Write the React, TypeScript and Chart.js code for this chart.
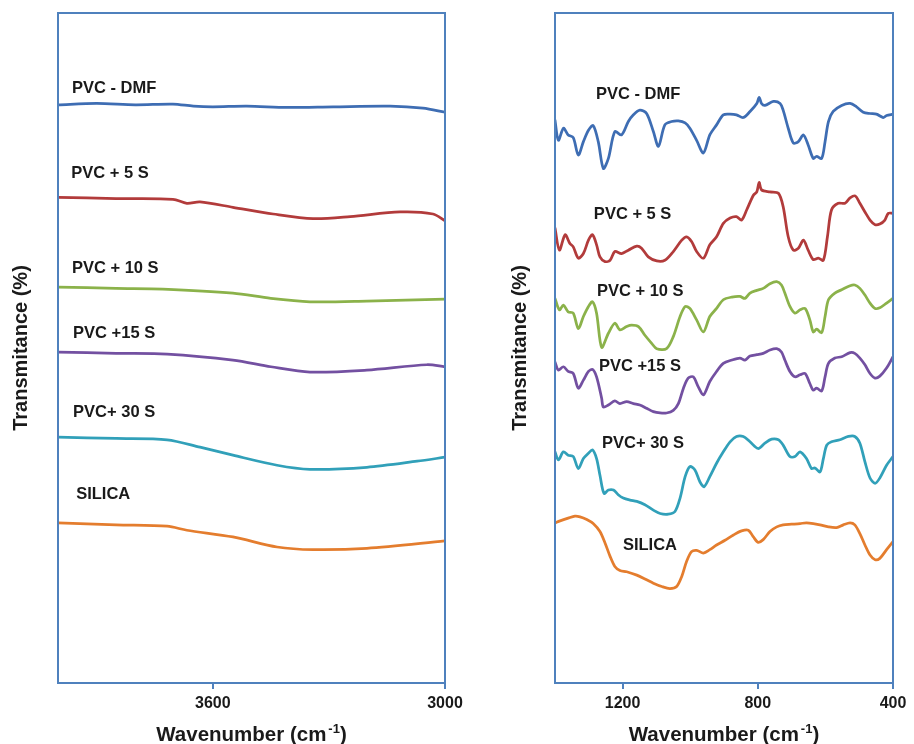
import React, { useEffect, useRef } from "react";
import { Chart, registerables } from "chart.js";
Chart.register(...registerables);

const FONT = '"Liberation Sans", Arial, Helvetica, sans-serif';
const BOX_COLOR = "#4f81bd";
const TEXT_COLOR = "#1a1a1a";

const SERIES_NAMES = ["PVC - DMF", "PVC + 5 S", "PVC + 10 S", "PVC +15 S", "PVC+ 30 S", "SILICA"];
const SERIES_COLORS = ["#3e6db3", "#b23b3b", "#8bb24a", "#7350a1", "#31a0b9", "#e47d2e"];

const Y_TITLE = "Transmitance (%)";
const X_TITLE_MAIN = "Wavenumber (cm";
const X_TITLE_SUP = "-1";
const X_TITLE_END = ")";

// Left panel (4000 - 3000 cm-1)
const LEFT_RANGE = [3000, 4000];
const LEFT_TICKS = [3600, 3000];
const L_DMF: [number, number][] = [[4000, 86.3], [3900, 86.5], [3800, 86.3], [3703, 86.4], [3650, 86.1], [3600, 86.0], [3512, 86.1], [3408, 85.9], [3289, 86.0], [3142, 86.1], [3057, 85.8], [3000, 85.2]];
const L_5S: [number, number][] = [[4000, 72.5], [3850, 72.3], [3703, 72.2], [3667, 71.6], [3633, 71.8], [3548, 71.0], [3444, 70.0], [3341, 69.3], [3245, 69.6], [3116, 70.3], [3031, 70.0], [3000, 69.0]];
const L_10S: [number, number][] = [[4000, 59.1], [3850, 58.9], [3729, 58.8], [3548, 58.2], [3450, 57.4], [3349, 56.9], [3202, 57.0], [3000, 57.3]];
const L_15S: [number, number][] = [[4000, 49.4], [3850, 49.2], [3718, 49.1], [3548, 48.2], [3450, 47.2], [3349, 46.4], [3202, 46.7], [3047, 47.5], [3000, 47.2]];
const L_30S: [number, number][] = [[4000, 36.7], [3850, 36.5], [3718, 36.3], [3633, 35.2], [3548, 34.0], [3434, 32.5], [3349, 31.9], [3202, 32.2], [3072, 33.1], [3000, 33.7]];
const L_SIL: [number, number][] = [[4000, 23.9], [3850, 23.6], [3718, 23.4], [3667, 22.8], [3548, 21.8], [3434, 20.3], [3341, 19.9], [3202, 20.1], [3000, 21.2]];
const LEFT_LABELS: [number, number][] = [[3964, 88.8], [3966, 76.1], [3964, 61.9], [3961, 52.2], [3961, 40.4], [3953, 28.1]];

// Right panel (1400 - 400 cm-1)
const RIGHT_RANGE = [400, 1400];
const RIGHT_TICKS = [1200, 800, 400];
const R_DMF: [number, number][] = [[1400, 84.0], [1390, 81.0], [1375, 82.8], [1361, 81.8], [1346, 81.4], [1331, 78.8], [1316, 80.8], [1301, 82.5], [1287, 83.2], [1272, 80.8], [1257, 76.8], [1242, 78.3], [1223, 82.3], [1203, 81.8], [1183, 83.8], [1168, 84.8], [1149, 85.5], [1129, 85.0], [1109, 82.3], [1094, 80.1], [1075, 83.3], [1055, 83.8], [1035, 83.9], [1015, 83.6], [1001, 82.8], [981, 81.0], [961, 79.1], [942, 81.8], [922, 83.3], [902, 84.8], [882, 84.9], [863, 84.8], [843, 84.4], [823, 85.3], [803, 86.5], [796, 87.4], [789, 86.5], [779, 86.2], [754, 86.8], [734, 86.5], [725, 85.5], [710, 82.8], [695, 80.6], [680, 80.8], [665, 81.8], [651, 80.3], [636, 78.3], [626, 78.6], [611, 78.3], [601, 80.8], [591, 83.8], [577, 85.3], [552, 86.2], [527, 86.5], [508, 86.0], [488, 85.2], [468, 85.0], [449, 84.9], [429, 84.4], [419, 84.7], [400, 84.9]];
const R_5S: [number, number][] = [[1400, 67.9], [1387, 64.6], [1370, 66.9], [1356, 65.6], [1346, 65.1], [1331, 63.4], [1316, 64.1], [1301, 66.1], [1289, 66.9], [1277, 65.4], [1267, 63.6], [1252, 62.9], [1237, 63.1], [1223, 64.4], [1203, 64.1], [1183, 64.6], [1158, 65.2], [1144, 64.9], [1124, 63.6], [1099, 63.0], [1075, 63.1], [1050, 64.4], [1025, 66.1], [1011, 66.6], [996, 65.9], [981, 64.4], [961, 63.4], [942, 65.4], [922, 66.6], [902, 68.6], [882, 69.4], [863, 69.6], [848, 69.1], [833, 70.6], [813, 72.8], [803, 73.3], [796, 74.7], [789, 73.6], [764, 73.3], [739, 73.1], [725, 71.1], [710, 66.6], [695, 64.6], [680, 64.9], [665, 66.1], [651, 64.6], [636, 63.2], [621, 63.4], [606, 63.1], [594, 66.6], [582, 70.6], [562, 71.6], [542, 71.6], [527, 72.4], [512, 72.7], [498, 71.6], [483, 70.3], [468, 69.1], [453, 68.4], [439, 68.5], [424, 69.1], [414, 70.1], [400, 70.1]];
const R_10S: [number, number][] = [[1400, 57.4], [1387, 55.7], [1375, 56.4], [1361, 55.4], [1346, 55.2], [1331, 52.9], [1316, 54.7], [1301, 56.2], [1289, 56.9], [1277, 55.2], [1262, 50.1], [1242, 52.2], [1223, 53.7], [1208, 52.7], [1188, 53.2], [1173, 53.4], [1153, 53.2], [1134, 51.9], [1114, 50.7], [1099, 49.9], [1070, 49.9], [1050, 51.7], [1030, 54.7], [1015, 56.2], [1001, 55.9], [981, 54.2], [961, 52.4], [942, 54.7], [922, 55.9], [902, 57.2], [877, 57.6], [853, 57.7], [838, 57.4], [823, 58.2], [803, 58.6], [784, 58.9], [764, 59.6], [744, 59.9], [730, 59.4], [720, 58.2], [705, 56.2], [690, 55.2], [675, 55.7], [660, 55.9], [646, 54.2], [636, 52.4], [626, 52.8], [611, 52.3], [601, 54.7], [591, 57.2], [572, 58.2], [552, 58.7], [527, 59.3], [513, 59.4], [498, 58.9], [483, 57.9], [468, 56.7], [453, 55.9], [439, 56.0], [419, 56.7], [400, 57.4]];
const R_15S: [number, number][] = [[1400, 47.9], [1390, 46.7], [1375, 47.2], [1361, 46.5], [1346, 46.2], [1331, 44.0], [1316, 45.2], [1301, 46.5], [1289, 46.8], [1277, 45.7], [1262, 42.5], [1257, 41.2], [1242, 41.5], [1223, 42.1], [1208, 41.7], [1188, 42.0], [1168, 41.7], [1149, 41.5], [1129, 41.0], [1109, 40.5], [1089, 40.3], [1070, 40.3], [1050, 40.7], [1035, 41.7], [1020, 44.0], [1006, 45.5], [991, 45.7], [976, 44.2], [961, 43.0], [942, 45.0], [922, 46.5], [902, 47.7], [877, 48.2], [853, 48.5], [838, 48.2], [823, 48.8], [803, 49.0], [784, 49.2], [764, 49.7], [744, 49.9], [730, 49.4], [720, 48.2], [705, 46.5], [690, 45.7], [675, 46.0], [660, 46.2], [646, 44.7], [636, 43.7], [626, 44.0], [611, 43.6], [601, 45.7], [591, 47.7], [572, 48.5], [552, 48.7], [527, 49.3], [513, 49.2], [498, 48.5], [483, 47.5], [468, 46.2], [453, 45.5], [439, 45.8], [419, 47.0], [400, 48.7]];
const R_30S: [number, number][] = [[1400, 34.5], [1390, 33.3], [1375, 34.5], [1361, 34.0], [1346, 33.8], [1331, 32.0], [1316, 33.5], [1301, 34.3], [1289, 34.8], [1277, 33.5], [1267, 31.0], [1255, 28.3], [1242, 28.8], [1227, 28.8], [1213, 28.1], [1198, 27.6], [1178, 27.3], [1158, 27.1], [1134, 26.6], [1109, 25.8], [1089, 25.3], [1065, 25.2], [1045, 25.6], [1030, 27.6], [1015, 30.8], [1001, 32.3], [986, 31.8], [971, 30.0], [959, 29.3], [942, 30.8], [922, 32.8], [902, 34.5], [882, 36.0], [863, 36.8], [843, 36.8], [823, 36.0], [799, 35.0], [779, 35.8], [759, 36.4], [739, 36.3], [725, 35.5], [705, 33.8], [690, 33.8], [675, 34.5], [656, 33.5], [641, 32.0], [631, 32.1], [616, 31.5], [606, 33.5], [596, 35.5], [582, 36.0], [557, 36.3], [532, 36.8], [513, 36.8], [498, 35.8], [483, 33.0], [468, 30.6], [453, 29.8], [439, 30.6], [419, 32.5], [400, 33.8]];
const R_SIL: [number, number][] = [[1400, 23.9], [1385, 24.2], [1361, 24.6], [1341, 24.9], [1326, 24.8], [1306, 24.4], [1287, 23.8], [1267, 22.6], [1252, 20.9], [1237, 18.9], [1223, 17.4], [1208, 16.8], [1188, 16.6], [1158, 16.1], [1129, 15.4], [1109, 14.9], [1084, 14.4], [1060, 14.1], [1040, 14.4], [1025, 15.9], [1011, 18.1], [996, 19.6], [981, 19.8], [961, 19.4], [942, 19.9], [922, 20.6], [897, 21.3], [872, 22.1], [848, 22.7], [828, 22.8], [813, 21.8], [799, 21.0], [784, 21.4], [764, 22.6], [744, 23.3], [725, 23.6], [700, 23.7], [675, 23.8], [656, 23.9], [636, 23.8], [616, 23.6], [591, 23.3], [567, 23.2], [547, 23.6], [527, 23.9], [513, 23.6], [498, 22.3], [483, 20.6], [468, 19.1], [453, 18.4], [439, 18.6], [419, 19.9], [400, 21.1]];
const RIGHT_LABELS: [number, number][] = [[1279, 87.8], [1285, 70.0], [1276, 58.5], [1270, 47.2], [1261, 35.8], [1199, 20.6]];

const LEFT_SERIES = [L_DMF, L_5S, L_10S, L_15S, L_30S, L_SIL];
const RIGHT_SERIES = [R_DMF, R_5S, R_10S, R_15S, R_30S, R_SIL];

type PanelProps = {
  series: [number, number][][];
  labels: [number, number][];
  range: number[];
  ticks: number[];
  left: number;
  width: number;
  padLeft: number;
  padRight: number;
  yTitleX: number;
};

const decorPlugin = {
  id: "panelDecor",
  afterDatasetsDraw(chart: any) {
    const { ctx, chartArea } = chart;
    ctx.save();
    ctx.strokeStyle = BOX_COLOR;
    ctx.lineWidth = 2;
    ctx.strokeRect(chartArea.left, chartArea.top, chartArea.right - chartArea.left, chartArea.bottom - chartArea.top);
    ctx.restore();
  },
  afterDraw(chart: any, _args: any, opts: any) {
    const { ctx, chartArea, scales } = chart;
    const xs = scales.x;
    const ys = scales.y;
    ctx.save();
    ctx.fillStyle = TEXT_COLOR;
    ctx.font = `bold 16.5px ${FONT}`;
    ctx.textAlign = "left";
    ctx.textBaseline = "middle";
    (opts.labels as [number, number][]).forEach((p, i) => {
      ctx.fillText(SERIES_NAMES[i], xs.getPixelForValue(p[0]), ys.getPixelForValue(p[1]));
    });
    ctx.save();
    ctx.translate(opts.yTitleX, (chartArea.top + chartArea.bottom) / 2);
    ctx.rotate(-Math.PI / 2);
    ctx.font = `bold 20px ${FONT}`;
    ctx.textAlign = "center";
    ctx.textBaseline = "middle";
    ctx.fillText(Y_TITLE, 0, 0);
    ctx.restore();
    const cx = (chartArea.left + chartArea.right) / 2;
    const base = 741;
    ctx.textBaseline = "alphabetic";
    ctx.textAlign = "left";
    ctx.font = `bold 20.5px ${FONT}`;
    const w1 = ctx.measureText(X_TITLE_MAIN).width;
    const w3 = ctx.measureText(X_TITLE_END).width;
    ctx.font = `bold 13px ${FONT}`;
    const w2 = ctx.measureText(X_TITLE_SUP).width;
    const gap = 2;
    const total = w1 + gap + w2 + w3;
    const x0 = cx - total / 2;
    ctx.font = `bold 20.5px ${FONT}`;
    ctx.fillText(X_TITLE_MAIN, x0, base);
    ctx.font = `bold 13px ${FONT}`;
    ctx.fillText(X_TITLE_SUP, x0 + w1 + gap, base - 8);
    ctx.font = `bold 20.5px ${FONT}`;
    ctx.fillText(X_TITLE_END, x0 + w1 + gap + w2, base);
    ctx.restore();
  },
};

function Panel(props: PanelProps) {
  const ref = useRef<HTMLCanvasElement | null>(null);
  useEffect(() => {
    if (!ref.current) return;
    const chart = new Chart(ref.current, {
      type: "line",
      data: {
        datasets: props.series.map((s, i) => ({
          label: SERIES_NAMES[i],
          data: s.map(([x, y]) => ({ x, y })),
          borderColor: SERIES_COLORS[i],
          backgroundColor: SERIES_COLORS[i],
          borderWidth: 2.75,
          pointRadius: 0,
          fill: false,
          tension: 0.3,
          borderJoinStyle: "round",
          borderCapStyle: "round",
        })),
      },
      options: {
        animation: false,
        responsive: false,
        devicePixelRatio: 1,
        layout: { padding: { left: props.padLeft, right: props.padRight, top: 13, bottom: 11 } },
        plugins: {
          legend: { display: false },
          tooltip: { enabled: false },
          panelDecor: { labels: props.labels, yTitleX: props.yTitleX },
        } as any,
        scales: {
          x: {
            type: "linear",
            min: props.range[0],
            max: props.range[1],
            reverse: true,
            afterBuildTicks: (axis: any) => {
              axis.ticks = props.ticks.map((v) => ({ value: v }));
            },
            afterFit: (axis: any) => {
              axis.height = 50;
            },
            grid: { drawOnChartArea: false, drawTicks: true, tickLength: 6, color: BOX_COLOR, lineWidth: 2 },
            border: { display: false },
            ticks: {
              autoSkip: false,
              maxRotation: 0,
              padding: 5,
              color: TEXT_COLOR,
              font: { family: FONT, size: 16, weight: "bold" },
              callback: (v: any) => String(v),
            },
          },
          y: {
            type: "linear",
            min: 0,
            max: 100,
            display: false,
          },
        },
      },
      plugins: [decorPlugin],
    } as any);
    return () => chart.destroy();
  }, []);
  return (
    <canvas
      ref={ref}
      width={props.width}
      height={744}
      style={{ position: "absolute", left: props.left, top: 0, width: props.width, height: 744 }}
    />
  );
}

export default function App() {
  return (
    <div style={{ position: "fixed", left: 0, top: 0, width: 914, height: 744, background: "#ffffff", overflow: "hidden" }}>
      <Panel series={LEFT_SERIES} labels={LEFT_LABELS} range={LEFT_RANGE} ticks={LEFT_TICKS} left={0} width={500} padLeft={58} padRight={55} yTitleX={21} />
      <Panel series={RIGHT_SERIES} labels={RIGHT_LABELS} range={RIGHT_RANGE} ticks={RIGHT_TICKS} left={500} width={414} padLeft={55} padRight={21} yTitleX={20} />
    </div>
  );
}
